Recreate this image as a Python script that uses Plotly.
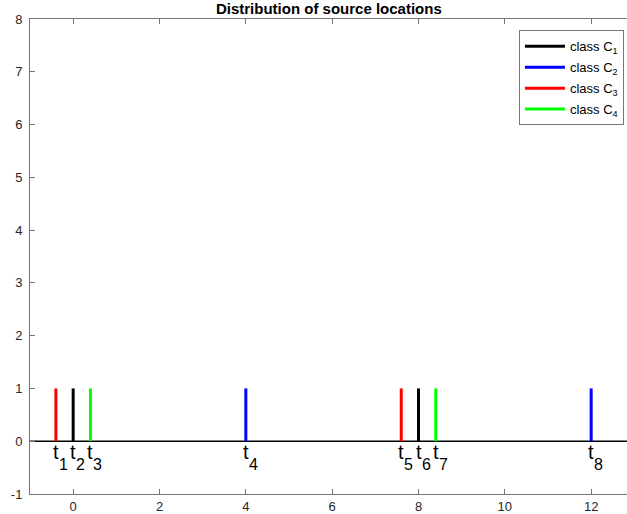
import plotly.graph_objects as go

# Data
locations = [-0.4, 0.0, 0.4, 4.0, 7.6, 8.0, 8.4, 12.0]
source_class = [3, 1, 4, 2, 3, 1, 4, 2]
amplitudes = [1, 1, 1, 1, 1, 1, 1, 1]
point_labels = ["1", "2", "3", "4", "5", "6", "7", "8"]
class_names = ["class C<sub>1</sub>", "class C<sub>2</sub>", "class C<sub>3</sub>", "class C<sub>4</sub>"]
class_colors = ["#000000", "#0000ff", "#ff0000", "#00ff00"]
x_ticks = [0, 2, 4, 6, 8, 10, 12]
y_ticks = [-1, 0, 1, 2, 3, 4, 5, 6, 7, 8]
y_tick_text = ["-1", "0", "1", "2", "3", "4", "5", "6", "7", "8"]

FONT = "Liberation Sans, Arial, Helvetica"

fig = go.Figure()

# zero line
fig.add_trace(go.Scatter(x=[-1, 12.85], y=[0, 0], mode="lines",
                         line=dict(color="black", width=1.5), showlegend=False, hoverinfo="skip"))

for ci, (name, col) in enumerate(zip(class_names, class_colors), start=1):
    xs, ys = [], []
    for loc, c, a in zip(locations, source_class, amplitudes):
        if c == ci:
            xs += [loc, loc, None]
            ys += [0, a, None]
    fig.add_trace(go.Scatter(x=xs, y=ys, mode="lines", name=name, legendgroup=f"g{ci}",
                             line=dict(color=col, width=3)))

for loc, lab in zip(locations, point_labels):
    fig.add_annotation(x=loc, y=0, xref="x", yref="y", text="t",
                       showarrow=False, xanchor="center", yanchor="top", yshift=1, borderpad=0,
                       font=dict(size=20, color="black", family=FONT))
    fig.add_annotation(x=loc, y=0, xref="x", yref="y", text=lab,
                       showarrow=False, xanchor="left", yanchor="top", xshift=2, yshift=-14, borderpad=0,
                       font=dict(size=16, color="black", family=FONT))

fig.update_layout(
    width=627, height=514,
    margin=dict(l=30, r=0, t=19, b=20, autoexpand=False),
    plot_bgcolor="white", paper_bgcolor="white",
    font=dict(family=FONT, size=12, color="#262626"),
    title=dict(text="<b>Distribution of source locations</b>", x=0.5245, xanchor="center",
               y=0.993, yanchor="top", font=dict(size=15, color="black"), automargin=False),
    xaxis=dict(range=[-1, 12.83], tickvals=x_ticks, ticks="inside", ticklen=5, tickcolor="#777",
               showline=True, linecolor="#777", linewidth=1, mirror="ticks", showgrid=False,
               zeroline=False, automargin=False, tickfont=dict(size=13, color="#262626")),
    yaxis=dict(range=[-1, 8], tickvals=y_ticks, ticktext=y_tick_text, ticks="inside", ticklen=5,
               tickcolor="#777", showline=True, linecolor="#777", linewidth=1, showgrid=False,
               zeroline=False, automargin=False, ticklabelstandoff=4,
               tickfont=dict(size=13, color="#262626")),
    legend=dict(x=0.819, y=0.976, xanchor="left", yanchor="top", bordercolor="#777", borderwidth=1,
                bgcolor="white", font=dict(size=13, color="black"), tracegroupgap=1,
                itemwidth=40),
)

fig.write_html("out.html", config={"displayModeBar": False},
               post_script="document.body.style.margin='0';document.body.style.overflow='hidden';")
